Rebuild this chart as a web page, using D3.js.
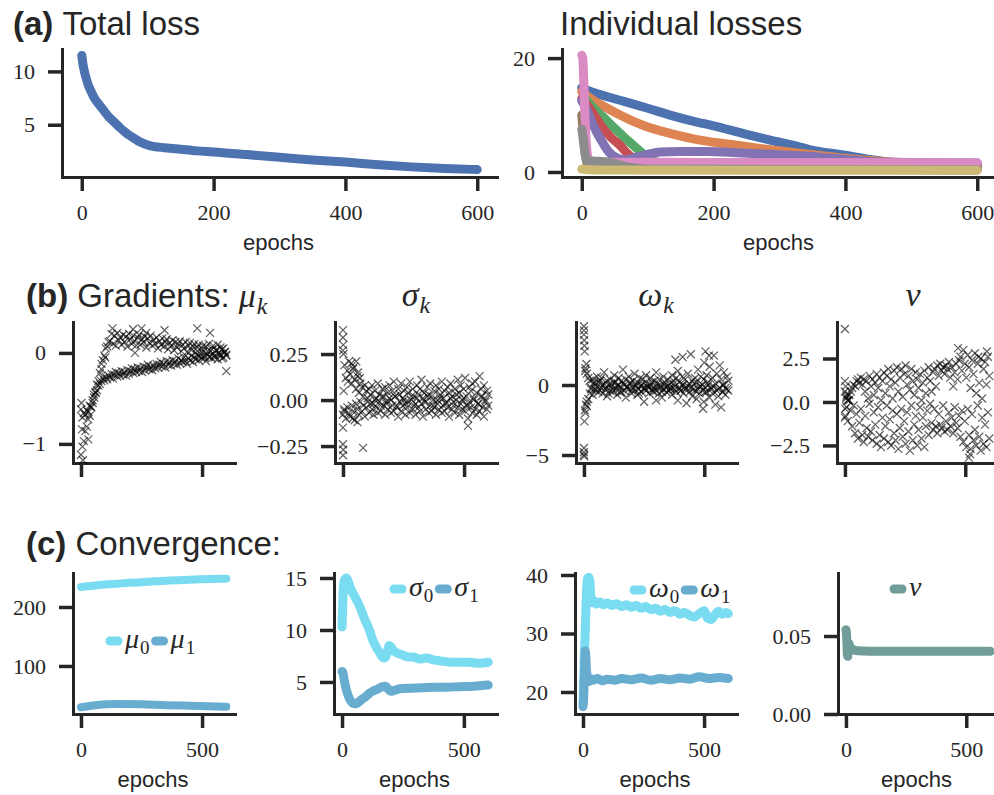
<!DOCTYPE html>
<html><head><meta charset="utf-8">
<script src="https://cdn.jsdelivr.net/npm/d3@7"></script>
<style>body{margin:0;background:#fff;}</style>
</head><body>
<svg id="c" width="994" height="795"></svg>
<script>
// ---------------- DATA ----------------
const totalLoss = [[0,11.5],[2,10.6],[4,10.0],[7,9.3],[10,8.7],[15,8.0],[20,7.4],[25,7.0],[30,6.6],[35,6.2],[40,5.8],[45,5.5],[50,5.2],[55,4.9],[60,4.6],[65,4.35],[70,4.1],[75,3.9],[80,3.7],[85,3.5],[90,3.35],[100,3.1],[110,2.95],[125,2.85],[150,2.7],[175,2.55],[200,2.45],[250,2.2],[300,1.95],[350,1.7],[400,1.5],[450,1.25],[500,1.05],[550,0.9],[600,0.8]];

const lossBlue   = [[0,14.8],[10,14.3],[25,13.7],[58,12.6],[100,11.2],[134,10.0],[170,8.9],[200,8.1],[250,6.6],[286,5.6],[320,4.7],[347,3.9],[397,3.0],[438,2.2],[470,1.7],[500,1.5],[550,1.4],[600,1.35]];
const lossOrange = [[0,14.1],[10,13.2],[20,12.4],[40,11.1],[58,10.0],[80,8.8],[100,7.9],[134,6.8],[180,5.6],[235,4.7],[286,3.9],[330,3.3],[360,2.9],[400,2.4],[450,1.9],[500,1.6],[600,1.4]];
const lossGreen  = [[3,13.2],[10,12.2],[20,11.0],[32,9.7],[45,8.2],[58,6.8],[70,5.5],[83,4.2],[95,3.0],[105,2.2],[120,1.6],[160,1.3],[300,1.2],[600,1.1]];
const lossRed    = [[0,12.9],[10,11.5],[20,9.8],[32,7.7],[45,6.0],[58,4.7],[68,3.4],[78,2.4],[90,1.6],[110,1.2],[200,1.0],[600,0.9]];
const lossPurple = [[0,12.5],[5,11.5],[10,10.3],[16,8.6],[22,7.1],[32,5.1],[42,3.4],[53,2.5],[65,2.1],[80,2.5],[100,3.1],[120,3.5],[150,3.6],[190,3.6],[235,3.4],[286,3.1],[340,2.8],[380,2.4],[420,2.0],[460,1.7],[600,1.6]];
const lossBrown  = [[0,10.0],[2,7.5],[4,4.5],[7,2.0],[10,1.0],[20,0.6],[600,0.4]];
const lossPink   = [[0,20.5],[1.5,20.0],[3,16.0],[4.5,11.0],[6,6.5],[8,3.5],[10,2.3],[15,1.9],[30,1.7],[100,1.7],[300,1.65],[600,1.6]];
const lossGray   = [[0,7.5],[2,6.0],[4,4.0],[6,2.6],[9,2.0],[20,1.9],[35,1.8],[50,1.5],[65,1.0],[80,0.7],[100,0.5],[600,0.4]];
const lossOlive  = [[0,0.5],[20,0.35],[600,0.3]];
const lossSeries = [lossBlue, lossOrange, lossGreen, lossRed, lossPurple, lossBrown, lossPink, lossGray, lossOlive];
const lossColors = ['#4C72B0','#DD8452','#55A868','#C44E52','#8172B3','#937860','#DA8BC3','#8C8C8C','#CCB974'];

// gradients, one value every 6 epochs (0..600)
const gradMuA = [-1.12,-1.03,-0.97,-0.86,-0.81,-0.73,-0.69,-0.60,-0.55,-0.46,
-0.43,-0.35,-0.31,-0.22,-0.18,-0.08,-0.03,0.05,0.07,0.12,
0.13,0.21,0.10,0.19,0.08,0.22,0.14,0.17,0.09,0.20,
0.12,0.18,0.07,0.21,0.15,0.10,0.19,0.13,0.08,0.17,
0.20,0.09,0.15,0.12,0.18,0.06,0.16,0.11,0.19,0.08,
0.14,0.10,0.17,0.05,0.13,0.09,0.16,0.07,0.12,0.15,
0.04,0.11,0.08,0.14,0.03,0.12,0.06,0.10,0.13,0.02,
0.09,0.05,0.12,0.01,0.08,0.11,0.03,0.07,0.10,0.00,
0.06,0.09,-0.01,0.05,0.08,-0.03,0.07,0.02,0.10,-0.04,
0.04,0.08,-0.05,0.03,0.09,-0.02,0.06,-0.06,0.05,0.01,-0.03];
const gradMuB = [-0.62,-0.71,-0.66,-0.68,-0.63,-0.65,-0.58,-0.59,-0.52,-0.49,
-0.44,-0.41,-0.36,-0.34,-0.31,-0.28,-0.30,-0.26,-0.29,-0.25,
-0.27,-0.23,-0.28,-0.24,-0.21,-0.26,-0.22,-0.25,-0.20,-0.24,
-0.21,-0.25,-0.19,-0.23,-0.20,-0.17,-0.22,-0.18,-0.21,-0.16,
-0.20,-0.17,-0.21,-0.15,-0.19,-0.16,-0.13,-0.18,-0.15,-0.19,
-0.14,-0.17,-0.12,-0.16,-0.13,-0.10,-0.15,-0.12,-0.16,-0.09,
-0.13,-0.10,-0.14,-0.08,-0.12,-0.09,-0.13,-0.06,-0.11,-0.08,
-0.10,-0.05,-0.09,-0.12,-0.06,-0.08,-0.03,-0.10,-0.05,-0.07,
-0.02,-0.08,-0.04,-0.06,0.01,-0.05,-0.09,-0.02,-0.04,0.02,
-0.06,-0.01,-0.03,0.03,-0.07,0.00,-0.02,0.04,-0.05,0.01,-0.02];
const gradMuExtra = [[2,-0.55],[4,-0.84],[8,-1.18],[30,-0.95],[85,-0.12],[100,-0.05],[130,0.27],[215,0.26],[223,0.0],[250,0.27],[270,0.22],[345,0.25],[480,0.27],[533,0.22],[600,-0.2]];

const gradSigma0 = [0.27,0.19,0.12,0.16,0.21,0.14,0.09,0.17,0.11,0.06,
0.13,0.04,0.09,0.07,0.02,0.08,0.05,-0.01,0.06,0.03,
0.08,-0.02,0.05,0.01,0.09,0.03,-0.03,0.06,0.02,0.07,
-0.01,0.04,0.08,0.00,0.05,0.10,0.02,-0.03,0.06,0.03,
0.09,0.01,0.05,-0.02,0.07,0.04,0.10,0.00,0.06,0.02,
-0.02,0.08,0.03,0.06,0.11,0.01,0.04,-0.01,0.07,0.03,
0.09,0.02,-0.03,0.05,0.08,0.00,0.06,0.03,0.10,0.01,
0.05,-0.02,0.07,0.04,0.09,0.02,-0.01,0.06,0.03,0.11,
0.04,0.08,0.00,0.06,0.12,0.02,-0.03,0.07,0.05,0.09,
0.01,0.10,0.04,-0.02,0.13,0.06,0.02,0.08,0.00,0.05,0.03];
const gradSigma1 = [-0.08,-0.06,-0.10,-0.04,-0.07,-0.09,-0.03,-0.06,-0.11,-0.02,
-0.05,-0.08,-0.01,-0.06,-0.03,-0.09,-0.04,0.01,-0.07,-0.02,
-0.05,-0.08,0.00,-0.04,-0.07,-0.01,-0.06,0.02,-0.03,-0.08,
-0.02,-0.05,0.01,-0.07,-0.03,-0.06,0.02,-0.04,-0.09,-0.01,
-0.06,-0.03,0.00,-0.08,-0.04,-0.01,-0.07,0.02,-0.05,-0.03,
-0.08,0.01,-0.04,-0.06,-0.02,-0.09,-0.01,-0.05,0.02,-0.07,
-0.03,-0.06,0.00,-0.04,-0.08,-0.02,-0.05,0.01,-0.07,-0.03,
-0.06,-0.01,-0.04,-0.09,0.01,-0.05,-0.03,-0.07,0.00,-0.04,
-0.08,-0.02,-0.05,0.01,-0.06,-0.03,-0.10,-0.01,-0.04,-0.07,
0.00,-0.05,-0.08,-0.02,-0.06,0.02,-0.04,-0.09,-0.01,-0.05,-0.03];
const gradSigmaExtra = [[0,0.38],[0,0.34],[1,0.30],[2,0.25],[0,-0.15],[0,-0.24],[1,-0.27],[0,-0.30],[83,-0.26],[516,-0.14],[20,0.10],[35,0.20],[45,0.18],[55,0.21],[62,0.15],[70,0.12],[40,-0.10],[60,-0.12],[3,0.05],[5,-0.05]];

const gradOmega0 = [3.9,1.2,0.8,0.5,0.3,-0.2,0.4,0.1,-0.3,0.6,
0.2,-0.4,0.5,0.0,0.9,-0.2,0.3,-0.6,0.4,0.1,
-0.3,0.7,0.2,-0.1,0.5,-0.5,0.3,1.1,0.0,0.4,
-0.2,0.6,0.1,-0.4,0.3,0.8,-0.1,0.2,-0.6,0.5,
0.0,0.4,-0.3,0.7,0.1,-0.2,0.5,0.2,-0.4,0.3,
0.9,-0.1,0.4,0.0,-0.5,0.6,0.2,-0.2,0.4,0.1,
-0.3,0.7,0.3,-0.1,0.5,1.0,0.2,-0.4,0.6,0.0,
0.4,-0.2,0.8,0.1,2.2,0.3,-0.3,0.5,0.2,1.1,
-0.1,0.6,0.0,0.4,-0.5,0.7,0.2,1.3,-0.2,0.5,
2.1,0.1,0.8,-0.3,1.4,0.4,0.0,0.9,-0.2,0.6,0.3];
const gradOmega1 = [-4.8,-2.0,-1.5,-1.0,-0.6,-0.3,-0.7,0.2,-0.4,-0.1,
-0.5,0.3,-0.2,-0.6,0.1,-0.3,-0.8,0.0,-0.4,-0.1,
-0.5,0.2,-0.3,-0.7,0.0,-0.2,-0.5,0.1,-0.4,-0.9,
-0.1,-0.3,0.2,-0.6,-0.2,-0.4,0.0,-0.7,-0.3,-0.1,
-0.5,0.1,-0.2,-0.4,-0.1,-0.6,0.0,-0.3,-0.5,-0.2,
-0.4,0.1,-0.6,-0.2,-0.9,-0.3,0.0,-0.5,-0.1,-0.4,
-0.2,-0.7,0.1,-0.3,-0.5,-1.1,-0.2,-0.4,0.0,-0.6,
-0.3,-1.3,-0.1,-0.5,-0.2,-0.8,0.1,-0.4,-1.0,-0.3,
-0.6,-0.1,-0.4,-1.2,-0.2,-0.5,0.0,-0.9,-0.3,-0.6,
-0.1,-1.4,-0.4,-0.8,-0.2,-1.6,-0.5,0.0,-0.7,-0.3,-0.4];
const gradOmegaExtra = [[0,4.2],[0,3.6],[1,3.2],[2,2.8],[3,2.4],[0,-4.5],[0,-5.0],[1,-5.1],[2,-2.6],[4,-1.8],[8,-1.4],[12,-1.2],[10,1.5],[5,1.0],[380,1.8],[410,2.0],[500,1.6],[505,2.4],[520,2.1],[495,-1.7],[300,-1.1],[250,-1.2]];

const gradNu0 = [1.2,0.3,0.1,0.4,0.6,0.8,1.0,0.9,1.2,1.3,
1.1,1.4,1.0,1.3,0.6,1.2,0.2,1.5,0.9,1.3,
0.4,1.1,1.6,0.8,1.4,0.1,1.2,1.7,0.5,1.5,
1.9,0.9,1.3,0.2,1.8,1.1,2.0,0.6,1.4,1.9,
0.3,1.6,2.1,1.0,1.5,0.7,1.9,1.2,0.4,1.7,
1.3,0.8,1.6,0.1,1.1,1.8,0.5,1.4,2.0,1.2,
0.6,1.7,1.9,0.9,2.1,1.5,2.2,1.8,2.0,1.6,
2.1,1.9,2.3,1.4,2.0,0.9,1.7,2.2,1.3,2.4,
2.6,1.8,3.0,2.2,1.4,2.7,2.0,0.8,2.4,1.6,
2.8,0.5,2.2,1.1,2.5,0.2,1.9,2.3,1.0,2.6,1.5];
const gradNu1 = [-0.9,-0.3,-1.1,0.1,-0.5,-1.4,-0.2,-1.8,-0.7,-2.1,
-1.2,-0.4,-1.9,-2.3,-0.8,-1.5,-2.0,-0.1,-1.7,-2.2,
-0.6,-1.3,-2.4,-0.3,-1.9,-2.6,-0.9,-2.1,-1.4,-0.2,
-2.3,-1.0,-2.5,-0.5,-1.8,-2.2,-0.7,-2.7,-1.5,-0.4,
-2.0,-1.1,-2.4,-0.6,-1.7,-2.8,-0.2,-2.2,-1.3,-0.8,
-2.5,-1.6,-0.3,-2.1,-0.9,-2.6,-1.4,-0.5,-1.9,-0.1,
-1.2,-1.6,-0.4,-1.4,-1.8,-0.7,-1.3,-1.5,-0.2,-1.7,
-1.1,-1.6,-0.6,-1.4,-0.9,-1.8,-0.3,-1.2,-1.5,-0.8,
-2.0,-0.5,-2.3,-1.1,-2.6,-0.4,-1.9,-2.7,-0.7,-2.2,
-1.6,-2.5,-0.2,-2.0,-2.8,-0.9,-2.4,-1.3,-2.6,-0.6,-2.1];
const gradNuExtra = [[0,4.2],[0,0.6],[1,-0.4],[2,-0.8],[3,0.9],[5,0.2],[8,0.4],[12,0.1],[520,-3.0],[515,-3.2],[470,3.1],[590,2.9],[555,2.6]];

// convergence
const mu0 = [[0,234],[50,236],[100,238],[150,239.5],[200,241],[250,242],[300,243.5],[350,244.5],[400,245.5],[450,246.3],[500,247],[550,247.5],[600,248]];
const mu1 = [[0,30],[50,33],[100,35],[150,35.5],[250,35],[350,33.5],[450,32.5],[600,31]];
const sigma0 = [[0,10.3],[3,12.5],[6,14.2],[10,14.8],[18,15.0],[25,14.7],[35,14.0],[50,13.3],[70,12.4],[90,11.2],[112,10.0],[125,9.1],[139,8.4],[155,7.8],[165,7.4],[174,7.3],[184,7.7],[194,8.5],[200,8.4],[208,8.1],[225,7.8],[249,7.6],[270,7.4],[291,7.4],[320,7.2],[346,7.3],[380,7.1],[415,7.0],[450,6.9],[483,6.9],[520,6.9],[560,6.8],[600,6.9]];
const sigma1 = [[0,6.0],[4,5.9],[8,5.3],[15,4.5],[25,3.7],[35,3.2],[45,2.95],[56,2.9],[70,3.1],[85,3.4],[98,3.6],[112,3.9],[125,4.1],[145,4.3],[166,4.55],[178,4.6],[190,4.3],[200,4.1],[215,4.2],[236,4.35],[280,4.4],[330,4.45],[380,4.5],[430,4.5],[480,4.55],[540,4.6],[600,4.7]];
const omega0 = [[0,18.0],[3,22],[6,26.5],[9,30],[12,34],[15,37.5],[18,39.3],[24,39.6],[28,39.0],[32,36.5],[36,35.3],[45,35.6],[55,35.0],[70,35.4],[85,34.9],[100,35.2],[120,34.8],[140,35.1],[160,34.6],[180,34.9],[200,34.5],[220,34.8],[240,34.3],[260,34.6],[280,34.1],[300,34.3],[320,33.8],[340,34.1],[360,33.6],[380,33.9],[400,33.3],[420,33.6],[440,33.1],[460,32.8],[480,33.4],[500,33.9],[515,32.6],[530,32.4],[545,33.2],[560,33.8],[575,33.3],[590,33.6],[600,33.4]];
const omega1 = [[0,17.5],[3,19],[5,22],[7,25],[9,27],[11,26.5],[14,24],[18,22.5],[24,21.8],[30,22.3],[40,22.0],[60,22.3],[80,21.9],[100,22.2],[130,22.0],[160,22.3],[200,22.1],[240,22.4],[280,22.0],[320,22.3],[360,22.1],[400,22.4],[440,22.2],[480,22.6],[520,22.3],[560,22.5],[600,22.3]];
const nu = [[0,0.054],[2,0.052],[4,0.046],[6,0.038],[8,0.037],[10,0.043],[13,0.045],[17,0.043],[22,0.0415],[30,0.0412],[50,0.0405],[100,0.0403],[200,0.0402],[300,0.0403],[400,0.0402],[500,0.0403],[600,0.0402]];

const lossTicksX = [0,200,400,600];
const rowTicksX = [0,500];
const C_MU0 = '#7ADCF1', C_MU1 = '#68ADD0', C_NU = '#709D98';

// ---------------- DRAW ----------------
const INK = '#262626';
const SANS = '"Liberation Sans", Arial, Helvetica, sans-serif';
const SERIF = '"Liberation Serif", "DejaVu Serif", serif';
const svg = d3.select('#c');

function axes(cfg) {
  const g = svg.append('g');
  const x = d3.scaleLinear().domain(cfg.xd).range([cfg.x0, cfg.x1]);
  const y = d3.scaleLinear().domain(cfg.yd).range([cfg.yb, cfg.yt]);
  const gx = g.append('g').attr('transform', `translate(0,${cfg.yb})`)
    .call(d3.axisBottom(x).tickValues(cfg.xticks).tickSize(14).tickSizeOuter(0).tickPadding(13)
      .tickFormat(cfg.xlab ? d3.format('d') : () => ''));
  const gy = g.append('g').attr('transform', `translate(${cfg.x0},0)`)
    .call(d3.axisLeft(y).tickValues(cfg.yticks).tickSize(14).tickSizeOuter(0).tickPadding(13)
      .tickFormat(cfg.yf));
  [gx, gy].forEach(a => {
    a.attr('font-family', null).attr('font-size', null);
    a.select('.domain').attr('stroke', INK).attr('stroke-width', 3).attr('stroke-linecap', 'square');
    a.selectAll('.tick line').attr('stroke', INK).attr('stroke-width', 3.5);
    a.selectAll('.tick text').attr('fill', INK).attr('font-family', SERIF).attr('font-size', 22);
  });
  if (cfg.xlabel) {
    g.append('text').attr('x', (cfg.x0 + Math.min(cfg.x1, 997)) / 2 - 1).attr('y', cfg.yb + 73)
      .attr('text-anchor', 'middle').attr('font-family', SANS).attr('font-size', 22).attr('fill', INK)
      .text(cfg.xlabel);
  }
  const plot = g.append('g');
  return {g: plot, x, y};
}

function drawLine(ax, data, color, w) {
  ax.g.append('path').datum(data)
    .attr('d', d3.line().x(d => ax.x(d[0])).y(d => ax.y(d[1])).curve(d3.curveMonotoneX))
    .attr('fill', 'none').attr('stroke', color).attr('stroke-width', w || 9)
    .attr('stroke-linecap', 'round').attr('stroke-linejoin', 'round');
}

function crosses(ax, pts) {
  ax.g.append('g').selectAll('path').data(pts).join('path')
    .attr('d', d => { const cx = ax.x(d[0]), cy = ax.y(d[1]);
      return `M${cx-4},${cy-4}L${cx+4},${cy+4}M${cx-4},${cy+4}L${cx+4},${cy-4}`; })
    .attr('stroke', '#000').attr('stroke-opacity', 0.62).attr('stroke-width', 1.25).attr('fill', 'none');
}
const seriesPts = arr => arr.map((v, i) => [i * 600 / (arr.length - 1), v]);

function mathText(sel, sym, sub, size, subSize) {
  sel.append('tspan').attr('font-family', SERIF).attr('font-style', 'italic').attr('font-size', size).text(sym);
  if (sub !== undefined) sel.append('tspan').attr('font-family', SERIF)
    .attr('font-style', /[a-z]/.test(sub) ? 'italic' : 'normal')
    .attr('font-size', subSize).attr('dx', 1).attr('dy', size * 0.22).text(sub);
}

function legend(ax, items, xs, yc) {
  let xx = xs;
  items.forEach(it => {
    ax.g.append('line').attr('x1', xx + 4).attr('x2', xx + 12).attr('y1', yc).attr('y2', yc)
      .attr('stroke', it.color).attr('stroke-width', 9).attr('stroke-linecap', 'round');
    xx += 19;
    const t = ax.g.append('text').attr('x', xx).attr('y', yc + 7).attr('fill', INK);
    mathText(t, it.sym, it.sub, 28, 19);
    xx += t.node().getComputedTextLength() + 3;
  });
}

// Titles
function title(x, y, bold, rest) {
  const t = svg.append('text').attr('x', x).attr('y', y).attr('font-family', SANS).attr('font-size', 33).attr('fill', INK);
  if (bold) t.append('tspan').attr('font-weight', 'bold').text(bold + ' ');
  t.append('tspan').text(rest);
  return t;
}
title(13, 35, '(a)', 'Total loss');
title(560, 35, null, 'Individual losses');
const tb = title(26, 307, '(b)', 'Gradients: ');
mathText(tb, 'μ', 'k', 34, 24);
title(26, 555, '(c)', 'Convergence:');

// Row a
const xdA = [-30, 630];
const aTot = axes({x0: 62, x1: 497, yt: 49, yb: 177, xd: xdA, yd: [0.1, 12.1], xticks: lossTicksX, xlab: true,
  yticks: [5, 10], yf: d3.format('d'), xlabel: 'epochs'});
drawLine(aTot, totalLoss, '#4C72B0', 9);
const aInd = axes({x0: 562, x1: 997, yt: 49, yb: 177, xd: xdA, yd: [-0.88, 21.6], xticks: lossTicksX, xlab: true,
  yticks: [0, 20], yf: d3.format('d'), xlabel: 'epochs'});
lossSeries.forEach((s, i) => drawLine(aInd, s, lossColors[i], 9));

// Row b
const xdB = [-33, 636];
const b1 = axes({x0: 73, x1: 235, yt: 322, yb: 463, xd: xdB, yd: [-1.21, 0.34], xticks: rowTicksX, xlab: false,
  yticks: [-1, 0], yf: d3.format('d')});
crosses(b1, seriesPts(gradMuB)); crosses(b1, seriesPts(gradMuA)); crosses(b1, gradMuExtra);
const b2 = axes({x0: 335, x1: 497, yt: 322, yb: 463, xd: xdB, yd: [-0.342, 0.424], xticks: rowTicksX, xlab: false,
  yticks: [-0.25, 0, 0.25], yf: d3.format('.2f')});
crosses(b2, seriesPts(gradSigma0)); crosses(b2, seriesPts(gradSigma1)); crosses(b2, gradSigmaExtra);
const b3 = axes({x0: 576, x1: 737, yt: 322, yb: 463, xd: xdB, yd: [-5.57, 4.5], xticks: rowTicksX, xlab: false,
  yticks: [-5, 0], yf: d3.format('d')});
crosses(b3, seriesPts(gradOmega0)); crosses(b3, seriesPts(gradOmega1)); crosses(b3, gradOmegaExtra);
const b4 = axes({x0: 837, x1: 998, yt: 322, yb: 463, xd: xdB, yd: [-3.51, 4.6], xticks: rowTicksX, xlab: false,
  yticks: [-2.5, 0, 2.5], yf: d3.format('.1f')});
crosses(b4, seriesPts(gradNu0)); crosses(b4, seriesPts(gradNu1)); crosses(b4, gradNuExtra);

function subTitle(x, sym, sub) {
  const t = svg.append('text').attr('x', x).attr('y', 306).attr('text-anchor', 'middle').attr('fill', INK);
  mathText(t, sym, sub, 34, 24);
}
subTitle(416, 'σ', 'k'); subTitle(656, 'ω', 'k'); subTitle(913, 'ν');

// Row c
const c1 = axes({x0: 73, x1: 235, yt: 573, yb: 714, xd: xdB, yd: [18.6, 257.6], xticks: rowTicksX, xlab: true,
  yticks: [100, 200], yf: d3.format('d'), xlabel: 'epochs'});
drawLine(c1, mu0, C_MU0, 8); drawLine(c1, mu1, C_MU1, 8);
legend(c1, [{sym: 'μ', sub: '0', color: C_MU0}, {sym: 'μ', sub: '1', color: C_MU1}], 106, 641);

const c2 = axes({x0: 334, x1: 497, yt: 573, yb: 714, xd: xdB, yd: [1.92, 15.48], xticks: rowTicksX, xlab: true,
  yticks: [5, 10, 15], yf: d3.format('d'), xlabel: 'epochs'});
drawLine(c2, sigma0, C_MU0, 9); drawLine(c2, sigma1, C_MU1, 9);
legend(c2, [{sym: 'σ', sub: '0', color: C_MU0}, {sym: 'σ', sub: '1', color: C_MU1}], 390, 589);

const c3 = axes({x0: 575, x1: 737, yt: 573, yb: 714, xd: xdB, yd: [16.24, 40.34], xticks: rowTicksX, xlab: true,
  yticks: [20, 30, 40], yf: d3.format('d'), xlabel: 'epochs'});
drawLine(c3, omega0, C_MU0, 9); drawLine(c3, omega1, C_MU1, 9);
legend(c3, [{sym: 'ω', sub: '0', color: C_MU0}, {sym: 'ω', sub: '1', color: C_MU1}], 630, 590);

const c4 = axes({x0: 838, x1: 999, yt: 573, yb: 714, xd: xdB, yd: [0, 0.0904], xticks: rowTicksX, xlab: true,
  yticks: [0, 0.05], yf: d3.format('.2f'), xlabel: 'epochs'});
drawLine(c4, nu, C_NU, 9);
legend(c4, [{sym: 'ν', color: C_NU}], 890, 589);
</script>
</body></html>
